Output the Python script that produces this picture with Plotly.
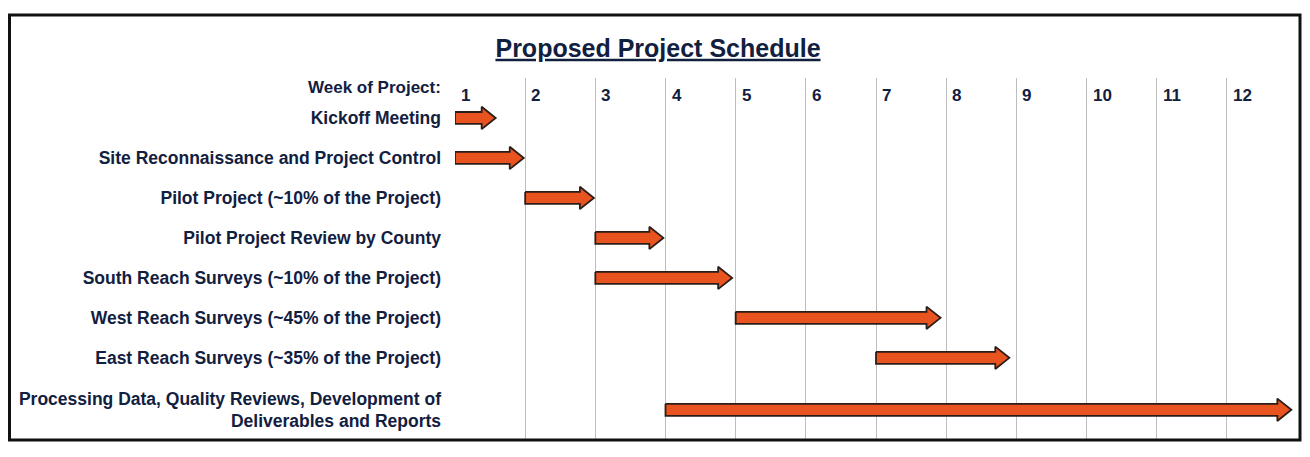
import plotly.graph_objects as go

# 任务数据（周数从第 1 周开始）
tasks = [
    "Kickoff Meeting",
    "Site Reconnaissance and Project Control",
    "Pilot Project (~10% of the Project)",
    "Pilot Project Review by County",
    "South Reach Surveys (~10% of the Project)",
    "West Reach Surveys (~45% of the Project)",
    "East Reach Surveys (~35% of the Project)",
    "Processing Data, Quality Reviews, Development of<br>Deliverables and Reports",
]
start_week = [1.0, 1.0, 2.0, 3.0, 3.0, 5.0, 7.0, 4.0]
end_week = [1.58, 1.98, 2.98, 3.97, 4.95, 7.92, 8.9, 12.92]
row_pos = [1, 2, 3, 4, 5, 6, 7, 8.3]
weeks = list(range(1, 13))

NAVY = "#12203f"
ORANGE = "#e8531f"
FONT = "Liberation Sans Narrow, Arial Narrow, Liberation Sans, Arial, sans-serif"

# 页面 body 默认有 8px 边距，这里按截图坐标减去（避免出现滚动条）
OFF = 8
W, H = 1310 - 2 * OFF, 457 - 2 * OFF
ML, MR = 455 - OFF, W - (1297 - OFF)
MT, MB = 78 - OFF, H - (439 - OFF)

fig = go.Figure()

# 箭头：由起止周数构造多边形
shaft, head, head_len = 0.15, 0.28, 0.2
for s, e, y in zip(start_week, end_week, row_pos):
    hx = e - head_len
    xs = [s, hx, hx, e, hx, hx, s, s]
    ys = [y - shaft, y - shaft, y - head, y, y + head, y + shaft, y + shaft, y - shaft]
    fig.add_trace(
        go.Scatter(
            x=xs,
            y=ys,
            mode="lines",
            fill="toself",
            fillcolor=ORANGE,
            line=dict(color="#2b1e18", width=1.8),
            hoverinfo="skip",
            showlegend=False,
        )
    )

# 周数标签
for w in weeks:
    fig.add_annotation(
        x=w, y=0.45, text=str(w), showarrow=False,
        xanchor="left", xshift=4, yanchor="middle",
        font=dict(family=FONT, size=17, color=NAVY, weight="bold"),
    )

fig.add_annotation(
    xref="paper", x=0, y=0.25, text="Week of Project:", showarrow=False,
    xanchor="right", xshift=-12, yanchor="middle",
    font=dict(family=FONT, size=17, color=NAVY, weight="bold"),
)

# 外框
pw = W - ML - MR
ph = H - MT - MB
fig.add_shape(
    type="rect", xref="paper", yref="paper",
    x0=(9.5 - OFF - ML) / pw, x1=(1300 - OFF - ML) / pw,
    y0=(H - MB - (440 - OFF)) / ph, y1=(H - MB - (15 - OFF)) / ph,
    line=dict(color="#111111", width=3),
)

fig.update_layout(
    width=W,
    height=H,
    margin=dict(l=ML, r=MR, t=MT, b=MB),
    paper_bgcolor="white",
    plot_bgcolor="white",
    title=dict(
        text="<u>Proposed Project Schedule</u>",
        x=(658 - OFF) / W, xref="container", xanchor="center",
        y=1 - (48 - OFF) / H, yref="container", yanchor="middle",
        font=dict(family=FONT, size=25, color=NAVY, weight="bold"),
    ),
    xaxis=dict(
        range=[1, 13],
        tickvals=weeks,
        showticklabels=False,
        showgrid=True,
        gridcolor="#bdbdbd",
        gridwidth=1,
        zeroline=False,
        showline=False,
        fixedrange=True,
    ),
    yaxis=dict(
        range=[9.03, 0],
        tickvals=row_pos,
        ticktext=tasks,
        ticklabelstandoff=13,
        tickfont=dict(family=FONT, size=17.5, color=NAVY, weight="bold"),
        showgrid=False,
        zeroline=False,
        showline=False,
        fixedrange=True,
    ),
)

fig.write_html("out.html")
